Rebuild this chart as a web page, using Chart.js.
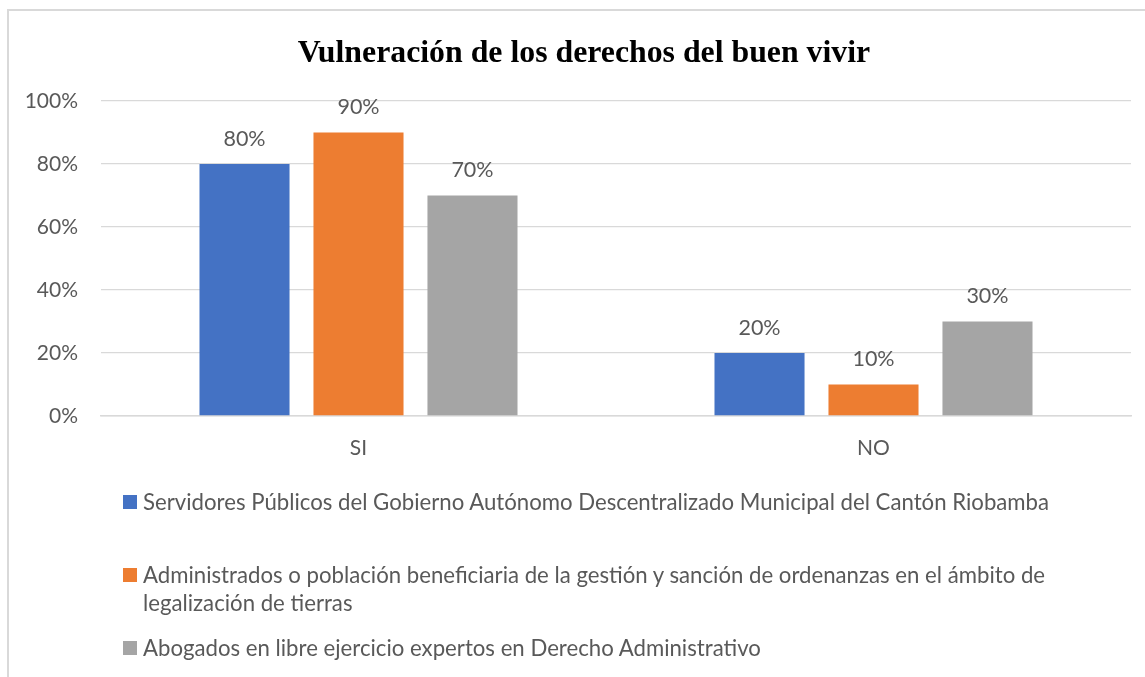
<!DOCTYPE html>
<html>
<head>
<meta charset="utf-8">
<script src="https://cdn.jsdelivr.net/npm/chart.js@4.4.1/dist/chart.umd.min.js"></script>
<style>
  html, body { margin: 0; padding: 0; background: #ffffff; width: 1145px; height: 677px; overflow: hidden; }
  #frame { position: absolute; left: 7px; top: 9px; width: 1300px; height: 900px; border: 2px solid #D9D9D9; box-sizing: border-box; }
  #wrap { position: absolute; left: 8px; top: 10px; width: 1152px; height: 667px; }
  #legend { position: absolute; left: 0; top: 0; width: 1145px; height: 677px; pointer-events: none; }
  .item { position: absolute; left: 123px; font-family: Lato, "Open Sans", sans-serif; font-size: 22.2px; line-height: 28px; color: #595959; white-space: nowrap; }
  .sw { position: absolute; left: 0; top: 7px; width: 14px; height: 14px; }
  .tx { margin-left: 20px; }
</style>
</head>
<body>
<div id="frame"></div>
<div id="wrap"><canvas id="c" width="1152" height="667"></canvas></div>
<div id="legend"></div>
<script>
const titleText = "Vulneración de los derechos del buen vivir";
const categories = ["SI", "NO"];
const seriesNames = [
  "Servidores Públicos del Gobierno Autónomo Descentralizado Municipal del Cantón Riobamba",
  "Administrados o población beneficiaria de la gestión y sanción de ordenanzas en el ámbito de\nlegalización de tierras",
  "Abogados en libre ejercicio expertos en Derecho Administrativo"
];
const servidores = [80, 20];
const administrados = [90, 10];
const abogados = [70, 30];
const seriesColors = ["#4472C4", "#ED7D31", "#A5A5A5"];
const yTicks = [0, 20, 40, 60, 80, 100];

const textColor = "#595959";
const sansFont = "Lato, 'Open Sans', sans-serif";

// Title centred on the whole chart box (as in the original), not on the padded area
const centeredTitle = {
  id: "centeredTitle",
  afterDraw(chart) {
    const ctx = chart.ctx;
    ctx.save();
    ctx.font = "bold 31.8px 'Liberation Serif', 'Times New Roman', serif";
    ctx.fillStyle = "#000000";
    ctx.textAlign = "center";
    ctx.textBaseline = "middle";
    ctx.fillText(titleText, chart.width / 2, 44);
    ctx.restore();
  }
};

const valueLabels = {
  id: "valueLabels",
  afterDatasetsDraw(chart) {
    const ctx = chart.ctx;
    ctx.save();
    ctx.font = "21.5px " + sansFont;
    ctx.fillStyle = textColor;
    ctx.textAlign = "center";
    ctx.textBaseline = "middle";
    chart.data.datasets.forEach((ds, i) => {
      chart.getDatasetMeta(i).data.forEach((bar, j) => {
        ctx.fillText(ds.data[j] + "%", bar.x, bar.y - 25);
      });
    });
    ctx.restore();
  }
};

const seriesData = [servidores, administrados, abogados];
new Chart(document.getElementById("c"), {
  type: "bar",
  data: {
    labels: categories,
    datasets: seriesNames.map((n, i) => ({
      label: n.replace("\n", " "),
      data: seriesData[i],
      backgroundColor: seriesColors[i],
      borderWidth: 0,
      categoryPercentage: 0.664,
      barPercentage: 0.79
    }))
  },
  options: {
    responsive: false,
    devicePixelRatio: 1,
    animation: false,
    layout: { padding: { left: 0, right: 29, top: 91, bottom: 221 } },
    plugins: {
      legend: { display: false },
      tooltip: { enabled: false },
      title: { display: false }
    },
    scales: {
      x: {
        afterFit(s) { s.height = 40; },
        grid: { display: false, drawTicks: false },
        border: { display: true, color: "#D9D9D9", width: 1.5 },
        ticks: { color: textColor, font: { family: sansFont, size: 21 }, padding: 20 }
      },
      y: {
        min: 0, max: 100,
        afterFit(s) { s.width = 93; },
        afterBuildTicks(s) { s.ticks = yTicks.map(v => ({ value: v })); },
        grid: { color: "#D9D9D9", lineWidth: 1.3, drawTicks: false },
        border: { display: false },
        ticks: { color: textColor, font: { family: sansFont, size: 21 }, padding: 23, callback: v => v + "%" }
      }
    }
  },
  plugins: [valueLabels, centeredTitle]
});

// Legend
const legendTops = [488, 561, 634];
const legend = document.getElementById("legend");
seriesNames.forEach((n, i) => {
  const d = document.createElement("div");
  d.className = "item";
  d.style.top = legendTops[i] + "px";
  const sw = document.createElement("div");
  sw.className = "sw";
  sw.style.background = seriesColors[i];
  d.appendChild(sw);
  const tx = document.createElement("div");
  tx.className = "tx";
  n.split("\n").forEach((line, k) => {
    if (k) tx.appendChild(document.createElement("br"));
    tx.appendChild(document.createTextNode(line));
  });
  d.appendChild(tx);
  legend.appendChild(d);
});
</script>
</body>
</html>
